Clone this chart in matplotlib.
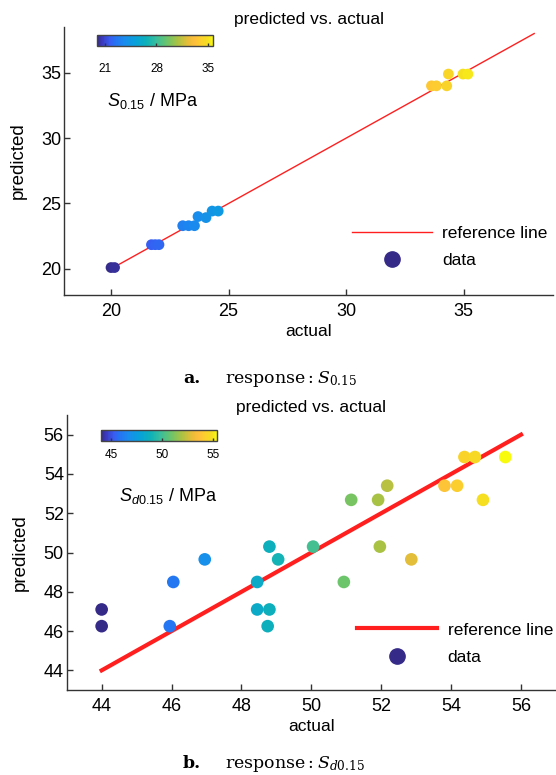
import numpy as np
import matplotlib; matplotlib.use('Agg')
import matplotlib.pyplot as plt
from matplotlib.colors import LinearSegmentedColormap, Normalize
from matplotlib.lines import Line2D
import matplotlib.cm as cm

plt.rcParams['font.family'] = ['Liberation Sans', 'DejaVu Sans']
plt.rcParams['mathtext.fontset'] = 'custom'
plt.rcParams['mathtext.rm'] = 'Liberation Sans'
plt.rcParams['mathtext.it'] = 'Liberation Sans:italic'

# parula-like colormap (MATLAB parula steps, index/63 as position; a bit more vivid like the print)
_par = [(0, (0.2081, 0.1663, 0.5292)), (3, (0.2300, 0.2300, 0.7600)), (7, (0.2200, 0.3600, 0.9500)),
        (10, (0.1500, 0.4500, 0.9500)), (15, (0.1000, 0.5500, 0.9300)),
        (21, (0.0265, 0.6337, 0.8535)), (27, (0.0590, 0.6938, 0.7254)), (32, (0.2178, 0.7450, 0.6193)),
        (38, (0.4200, 0.7700, 0.4200)), (44, (0.6800, 0.7600, 0.2600)), (50, (0.9300, 0.7400, 0.2200)),
        (53, (0.9938, 0.7455, 0.2403)), (56, (0.9880, 0.8066, 0.1794)), (60, (0.9626, 0.8705, 0.1309)),
        (63, (0.9763, 0.9831, 0.0538))]
parula = LinearSegmentedColormap.from_list('parula', [(i/63, c) for i, c in _par])

# ---- panel a data: response S0.15 ----
a_actual = [20.0, 20.15, 21.72, 21.88, 22.04, 23.05, 23.3, 23.55, 23.7, 24.04,
            24.3, 24.56, 33.63, 33.84, 34.28, 34.35, 34.97, 35.18]
a_pred = [20.1, 20.1, 21.85, 21.85, 21.85, 23.3, 23.3, 23.3, 24.0, 23.92,
          24.42, 24.42, 34.0, 34.0, 34.0, 34.9, 34.9, 34.9]
a_ref = [20, 38]
a_cticks = [21, 28, 35]
a_clim = (19.9, 35.7)

# ---- panel b data: response Sd0.15 ----
b_actual = [44.0, 44.0, 45.95, 46.05, 46.95, 48.45, 48.45, 48.8, 48.75, 48.8,
            49.05, 50.05, 50.93, 51.14, 51.91, 51.96, 52.17, 52.86, 53.81, 54.17,
            54.38, 54.68, 55.55, 54.91]
b_pred = [47.1, 46.25, 46.25, 48.5, 49.65, 48.5, 47.1, 47.1, 46.25, 50.3,
          49.65, 50.3, 48.5, 52.68, 52.68, 50.3, 53.4, 49.65, 53.4, 53.4,
          54.86, 54.86, 54.86, 52.68]
b_ref = [44, 56]
b_cticks = [45, 50, 55]
b_clim = (44.0, 55.45)

W, H = 556, 775
fig = plt.figure(figsize=(W/100, H/100), dpi=100)
fig.patch.set_facecolor('white')
RED = '#ff1f1f'

def px(x0, y0, x1, y1):
    return [x0/W, 1-y1/H, (x1-x0)/W, (y1-y0)/H]

def style(ax, title):
    for s in ['top', 'right']:
        ax.spines[s].set_visible(False)
    for s in ['left', 'bottom']:
        ax.spines[s].set_color('#333333'); ax.spines[s].set_linewidth(1.0)
    ax.tick_params(axis='both', direction='in', length=4, width=1, color='#333333', labelsize=13)
    ax.tick_params(axis='x', pad=5.5)
    ax.tick_params(axis='y', pad=2)
    ax.set_title(title, fontsize=12.5, pad=1)
    ax.set_xlabel('actual', fontsize=12.5, labelpad=3)
    ax.set_ylabel('predicted', fontsize=13.5, labelpad=10.5)

def add_legend(ax, lw, anchor, mcolor):
    hs = [Line2D([], [], color=RED, lw=lw),
          Line2D([], [], ls='none', marker='o', ms=11, color=mcolor)]
    ax.legend(hs, ['reference line', 'data'], loc='upper left', bbox_to_anchor=anchor,
              frameon=False, fontsize=12.5, handlelength=4.6, handletextpad=0.6,
              borderpad=0, borderaxespad=0, labelspacing=0.7)

def add_cbar(rect, clim, ticks, pad):
    cax = fig.add_axes(rect)
    sm = cm.ScalarMappable(norm=Normalize(*clim), cmap=parula)
    cb = fig.colorbar(sm, cax=cax, orientation='horizontal', ticks=ticks)
    cb.outline.set_edgecolor('#444444'); cb.outline.set_linewidth(1.0)
    cax.tick_params(direction='in', length=2, width=1, color='#333333', labelsize=8.5, pad=pad)
    return cb

# ---------------- panel a ----------------
axa = fig.add_axes(px(64, 27, 553, 295))
axa.plot(a_ref, a_ref, color=RED, lw=1.0, zorder=2)
axa.scatter(a_actual, a_pred, c=a_actual, cmap=parula, vmin=a_clim[0], vmax=a_clim[1],
            s=60, edgecolors='none', zorder=3)
axa.set_xlim(18, 38.8); axa.set_ylim(18, 38.5)
axa.set_xticks([20, 25, 30, 35]); axa.set_yticks([20, 25, 30, 35])
style(axa, 'predicted vs. actual')
add_legend(axa, 1.0, (0.589, 0.259), parula(0.0))
add_cbar(px(96.7, 35, 213.3, 46), a_clim, a_cticks, 12)
fig.text(153/W, 1-106/H, r'$S_{0.15}$ / MPa', fontsize=13, ha='center', va='baseline')

# ---------------- panel b ----------------
axb = fig.add_axes(px(66.7, 415, 556, 690))
axb.plot(b_ref, b_ref, color=RED, lw=3.0, zorder=2)
axb.scatter(b_actual, b_pred, c=b_actual, cmap=parula, vmin=b_clim[0], vmax=b_clim[1],
            s=83, edgecolors='none', zorder=3)
axb.set_xlim(43, 57); axb.set_ylim(43, 57)
axb.set_xticks(range(44, 57, 2)); axb.set_yticks(range(44, 57, 2))
style(axb, 'predicted vs. actual')
add_legend(axb, 3.0, (0.594, 0.246), parula(0.0))
add_cbar(px(100.7, 430, 217.3, 441), b_clim, b_cticks, 6)
fig.text(168/W, 1-501/H, r'$S_{d0.15}$ / MPa', fontsize=13, ha='center', va='baseline')

# ---------------- captions ----------------
for lbl, sub, ybase in [('a.', r'$S_{0.15}$', 383), ('b.', r'$S_{d0.15}$', 768)]:
    fig.text(183/W, 1-ybase/H, lbl, family='DejaVu Serif', fontweight='bold',
             fontsize=12.5, va='baseline')
    fig.text(225/W, 1-ybase/H, 'response\u2009:\u2009' + sub, family='DejaVu Serif',
             math_fontfamily='dejavuserif', fontsize=12.5, va='baseline')

fig.savefig('out.png', dpi=100, facecolor='white')
